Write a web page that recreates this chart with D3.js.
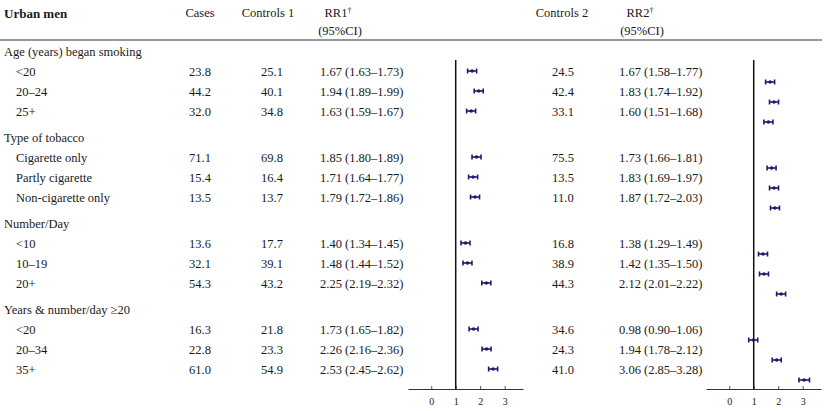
<!DOCTYPE html>
<html>
<head>
<meta charset="utf-8">
<title>Urban men forest table</title>
<script src="https://cdn.jsdelivr.net/npm/d3@7"></script>
<style>
  body { margin: 0; background: #fff; }
  text { font-family: "Liberation Serif", "DejaVu Serif", serif; fill: #1a1a1a; }
</style>
</head>
<body>
<script>
var groupNames = ["Age (years) began smoking", "Type of tobacco", "Number/Day", "Years & number/day \u226520"];
var subLabels = [["<20", "20\u201324", "25+"],
                 ["Cigarette only", "Partly cigarette", "Non-cigarette only"],
                 ["<10", "10\u201319", "20+"],
                 ["<20", "20\u201334", "35+"]];
var cases     = [23.8, 44.2, 32.0, 71.1, 15.4, 13.5, 13.6, 32.1, 54.3, 16.3, 22.8, 61.0];
var controls1 = [25.1, 40.1, 34.8, 69.8, 16.4, 13.7, 17.7, 39.1, 43.2, 21.8, 23.3, 54.9];
var rr1   = [1.67, 1.94, 1.63, 1.85, 1.71, 1.79, 1.40, 1.48, 2.25, 1.73, 2.26, 2.53];
var rr1Lo = [1.63, 1.89, 1.59, 1.80, 1.64, 1.72, 1.34, 1.44, 2.19, 1.65, 2.16, 2.45];
var rr1Hi = [1.73, 1.99, 1.67, 1.89, 1.77, 1.86, 1.45, 1.52, 2.32, 1.82, 2.36, 2.62];
var controls2 = [24.5, 42.4, 33.1, 75.5, 13.5, 11.0, 16.8, 38.9, 44.3, 34.6, 24.3, 41.0];
var rr2   = [1.67, 1.83, 1.60, 1.73, 1.83, 1.87, 1.38, 1.42, 2.12, 0.98, 1.94, 3.06];
var rr2Lo = [1.58, 1.74, 1.51, 1.66, 1.69, 1.72, 1.29, 1.35, 2.01, 0.90, 1.78, 2.85];
var rr2Hi = [1.77, 1.92, 1.68, 1.81, 1.97, 2.03, 1.49, 1.50, 2.22, 1.06, 2.12, 3.28];
var axisTicks = [0, 1, 2, 3];

var width = 824, height = 411;
var fs = 12.5;
var rowStep = 20, groupGap = 26, firstRow = 52;
var axisY = 389, refTop = 60;
var navy = "#1c1c6a";

var svg = d3.select("body").append("svg")
    .attr("width", width)
    .attr("height", height);

// build rows (group header, then its items)
var rows = [], y = firstRow - groupGap, k = 0;
groupNames.forEach(function(g, gi) {
  y += groupGap;
  rows.push({label: g, group: true, y: y});
  subLabels[gi].forEach(function(s) {
    y += rowStep;
    rows.push({label: s, group: false, y: y, i: k++});
  });
});
var items = rows.filter(function(r) { return !r.group; });

var f1 = d3.format(".1f"), f2 = d3.format(".2f");
function ciText(v, lo, hi) { return f2(v) + " (" + f2(lo) + "\u2013" + f2(hi) + ")"; }

// headers
var hdr = svg.append("g").attr("font-size", fs);
hdr.append("text").attr("x", 4).attr("y", 13).attr("dy", "0.35em")
   .attr("font-weight", "bold").attr("font-size", 13).text("Urban men");
[["Cases", 200], ["Controls 1", 268], ["Controls 2", 562]].forEach(function(h) {
  hdr.append("text").attr("x", h[1]).attr("y", 13).attr("dy", "0.35em")
     .attr("text-anchor", "middle").text(h[0]);
});
[["RR1", 338], ["RR2", 640]].forEach(function(h) {
  var t = hdr.append("text").attr("x", h[1]).attr("y", 13).attr("dy", "0.35em")
     .attr("text-anchor", "middle");
  t.append("tspan").text(h[0]);
  t.append("tspan").attr("dy", "-0.5em").attr("font-size", 8).text("\u2020");
  hdr.append("text").attr("x", h[1] + 2).attr("y", 31).attr("dy", "0.35em")
     .attr("text-anchor", "middle").text("(95%CI)");
});
svg.append("line").attr("x1", 0).attr("x2", 822).attr("y1", 40).attr("y2", 40)
   .attr("stroke", "#333").attr("stroke-width", 1.2);

// row labels
svg.append("g").attr("font-size", fs).selectAll("text").data(rows).join("text")
   .attr("x", function(d) { return d.group ? 4 : 16; })
   .attr("y", function(d) { return d.y; })
   .attr("dy", "0.35em")
   .text(function(d) { return d.label; });

// numeric columns
function numCol(x, anchor, fmt) {
  svg.append("g").attr("font-size", fs).selectAll("text").data(items).join("text")
     .attr("x", x)
     .attr("y", function(d) { return d.y; })
     .attr("dy", "0.35em")
     .attr("text-anchor", anchor)
     .text(function(d) { return fmt(d.i); });
}
numCol(200, "middle", function(i) { return f1(cases[i]); });
numCol(272, "middle", function(i) { return f1(controls1[i]); });
numCol(320, "start", function(i) { return ciText(rr1[i], rr1Lo[i], rr1Hi[i]); });
numCol(563, "middle", function(i) { return f1(controls2[i]); });
numCol(619, "start", function(i) { return ciText(rr2[i], rr2Lo[i], rr2Hi[i]); });

// forest panels
function forest(x0, x1, est, lo, hi, dyShift) {
  var x = d3.scaleLinear().domain([-0.95, 3.75]).range([x0, x1]);
  var g = svg.append("g");

  var ax = g.append("g").attr("transform", "translate(0," + axisY + ")")
    .call(d3.axisBottom(x).tickValues(axisTicks).tickFormat(d3.format("d"))
      .tickSize(-3).tickPadding(9).tickSizeOuter(0));
  ax.select(".domain").attr("stroke", "#333").attr("stroke-width", 1.2);
  ax.selectAll(".tick line").attr("stroke", "#555");
  ax.selectAll(".tick text").attr("font-size", 10).attr("fill", "#444")
    .attr("font-family", "Liberation Serif, serif");

  g.append("line").attr("x1", x(1)).attr("x2", x(1))
   .attr("y1", refTop).attr("y2", axisY)
   .attr("stroke", "#111").attr("stroke-width", 1.5);

  var m = g.selectAll("g.mk").data(items).join("g").attr("class", "mk")
    .attr("transform", function(d) { return "translate(0," + (d.y + dyShift) + ")"; });
  function left(d)  { return Math.min(x(lo[d.i]), x(est[d.i]) - 4.5); }
  function right(d) { return Math.max(x(hi[d.i]), x(est[d.i]) + 4.5); }
  m.append("line").attr("x1", left).attr("x2", right)
   .attr("stroke", navy).attr("stroke-width", 1.6);
  m.append("line").attr("x1", left).attr("x2", left).attr("y1", -2.5).attr("y2", 2.5)
   .attr("stroke", navy).attr("stroke-width", 1.6);
  m.append("line").attr("x1", right).attr("x2", right).attr("y1", -2.5).attr("y2", 2.5)
   .attr("stroke", navy).attr("stroke-width", 1.6);
  m.append("circle").attr("cx", function(d) { return x(est[d.i]); })
   .attr("r", 1.8).attr("fill", navy);
}
forest(408, 523, rr1, rr1Lo, rr1Hi, -1);
forest(706, 821, rr2, rr2Lo, rr2Hi, 10);
</script>
</body>
</html>
